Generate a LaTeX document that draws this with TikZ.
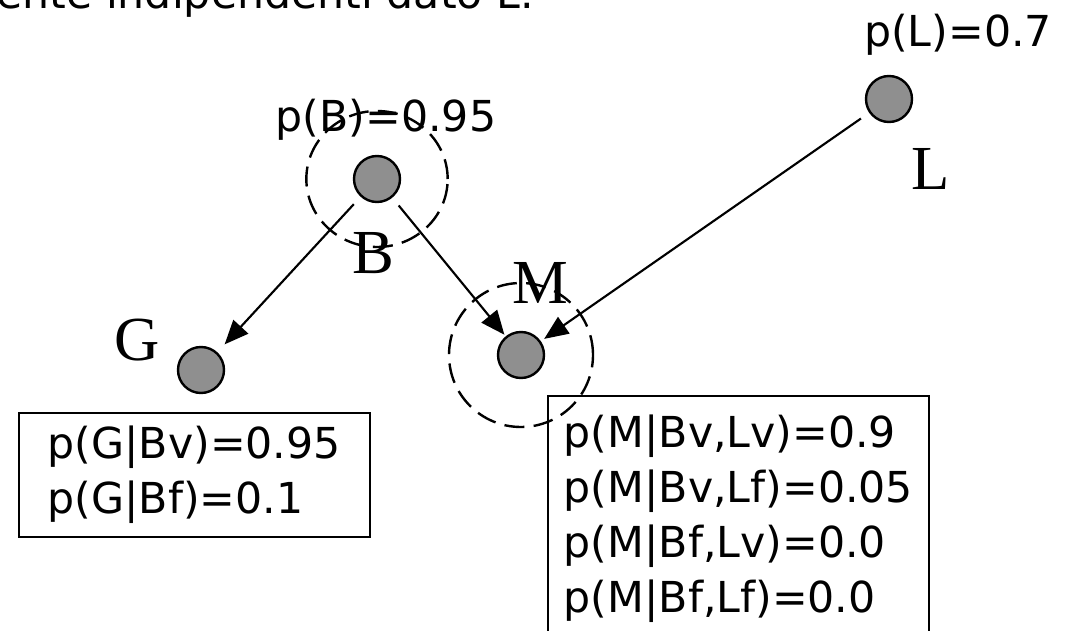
\documentclass[tikz,border=0pt]{standalone}
\usepackage{fontspec}
\setmainfont{DejaVu Sans}
\newfontfamily\varfont{Liberation Serif}
\usetikzlibrary{arrows.meta}
\definecolor{ngray}{RGB}{143,143,143}

\begin{document}
\begin{tikzpicture}[
    x=0.75pt, y=-0.75pt,
    varnode/.style={circle, draw=black, fill=ngray, line width=1.8pt, minimum size=34.5pt, inner sep=0pt},
    ring/.style={draw=black, line width=1.8pt, dash pattern=on 15pt off 7pt},
    varname/.style={font=\varfont\fontsize{47}{47}\selectfont, anchor=base, inner sep=0pt},
    prob/.style={font=\fontsize{32}{32}\selectfont, anchor=base, inner sep=0pt},
    cpt/.style={draw=black, line width=1.4pt, align=left, anchor=north west, inner sep=0pt, font=\fontsize{32}{41.25}\selectfont},
    link/.style={-{Triangle[length=18pt,width=15pt]}, line width=1.6pt, shorten <=7.5pt}
    ]
    \useasboundingbox (0,0) rectangle (1067,631);
    \clip (0,0) rectangle (1067,631);

    %Nodes
    \node[prob, anchor=base west] (title) at (-4,9) {ente indipendenti dato L.};
    \node[varnode] (B) at (377,179) {};
    \node[varnode] (G) at (201,370) {};
    \node[varnode] (M) at (521,355) {};
    \node[varnode] (L) at (889,99) {};
    \node[varname] (Bname) at (373,273) {B};
    \node[varname] (Gname) at (137,360) {G};
    \node[varname] (Mname) at (540,303) {M};
    \node[varname] (Lname) at (931,190) {L};
    \node[prob] (pB) at (386,132) {p(B)=0.95};
    \node[prob] (pL) at (958,47) {p(L)=0.7};
    \node[cpt, minimum width=263pt, minimum height=93pt] (Gcpt) at (18,412)
        {p(G|Bv)=0.95\\p(G|Bf)=0.1};
    \node[cpt, minimum width=285.75pt, minimum height=183.75pt] (Mcpt) at (547,395)
        {p(M|Bv,Lv)=0.9\\p(M|Bv,Lf)=0.05\\p(M|Bf,Lv)=0.0\\p(M|Bf,Lf)=0.0};

    %Lines
    \draw[ring] (B) ellipse [x radius=53pt, y radius=51pt];
    \draw[ring] (M) circle [radius=54pt];
    \draw[link, shorten >=8pt] (B) -- (G);
    \draw[link, shorten >=1.5pt] (B) -- (M);
    \draw[link, shorten >=3pt] (L) -- (M);
\end{tikzpicture}
\end{document}
